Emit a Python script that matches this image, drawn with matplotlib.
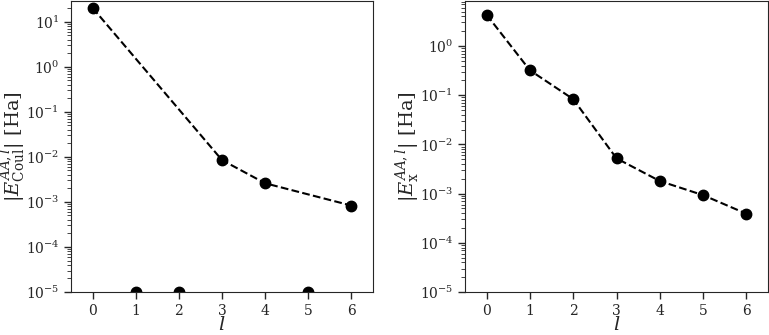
import numpy as np
import matplotlib
matplotlib.use("Agg")
import matplotlib.pyplot as plt

# angular momentum channels
l_vals = [0, 1, 2, 3, 4, 5, 6]

# |E_Coul^{AA,l}| in Ha (zero for l = 1, 2, 5)
e_coul = [20.4, 0.0, 0.0, 8.5e-3, 2.6e-3, 0.0, 8.3e-4]

# |E_x^{AA,l}| in Ha
e_x = [4.3, 0.32, 0.083, 5.2e-3, 1.8e-3, 9.3e-4, 3.9e-4]

plt.rcParams['font.family'] = 'DejaVu Serif'
plt.rcParams['mathtext.fontset'] = 'dejavuserif'
plt.rcParams['axes.edgecolor'] = '0.15'
plt.rcParams['xtick.color'] = '0.15'
plt.rcParams['ytick.color'] = '0.15'
plt.rcParams['text.color'] = '0.15'
plt.rcParams['axes.labelcolor'] = '0.15'

ymin = 1e-5

fig = plt.figure(figsize=(7.69, 3.35), dpi=100)
ax1 = fig.add_axes([71 / 769, 43 / 335, 302 / 769, 291 / 335])
ax2 = fig.add_axes([465 / 769, 43 / 335, 303 / 769, 291 / 335])

def draw(ax, vals, ytop, ylabel):
    l = np.array(l_vals)
    v = np.array(vals)
    nz = v > 0
    # dashed line through the non-zero values only
    ax.plot(l[nz], v[nz], ls='--', color='black', lw=1.5, marker='o', ms=7.5)
    # zero values sit on the bottom of the log axis
    ax.plot(l[~nz], np.full((~nz).sum(), ymin), ls='none', color='black',
            marker='o', ms=7.5)
    ax.set_yscale('log')
    ax.set_ylim(ymin, ytop)
    ax.set_xlim(-0.5, 6.5)
    ax.set_xticks(l_vals)
    ax.tick_params(axis='both', which='major', labelsize=10, length=5, width=1)
    ax.tick_params(axis='y', which='minor', length=3)
    ax.set_xlabel(r'$l$', fontsize=14, labelpad=-1)
    ax.set_ylabel(ylabel, fontsize=14, labelpad=-2)

draw(ax1, e_coul, 29, r'$|E^{AA,l}_{\mathrm{Coul}}|$ [Ha]')
draw(ax2, e_x, 8.2, r'$|E^{AA,l}_{\mathrm{x}}|$ [Ha]')

fig.savefig('out.png', dpi=100)
